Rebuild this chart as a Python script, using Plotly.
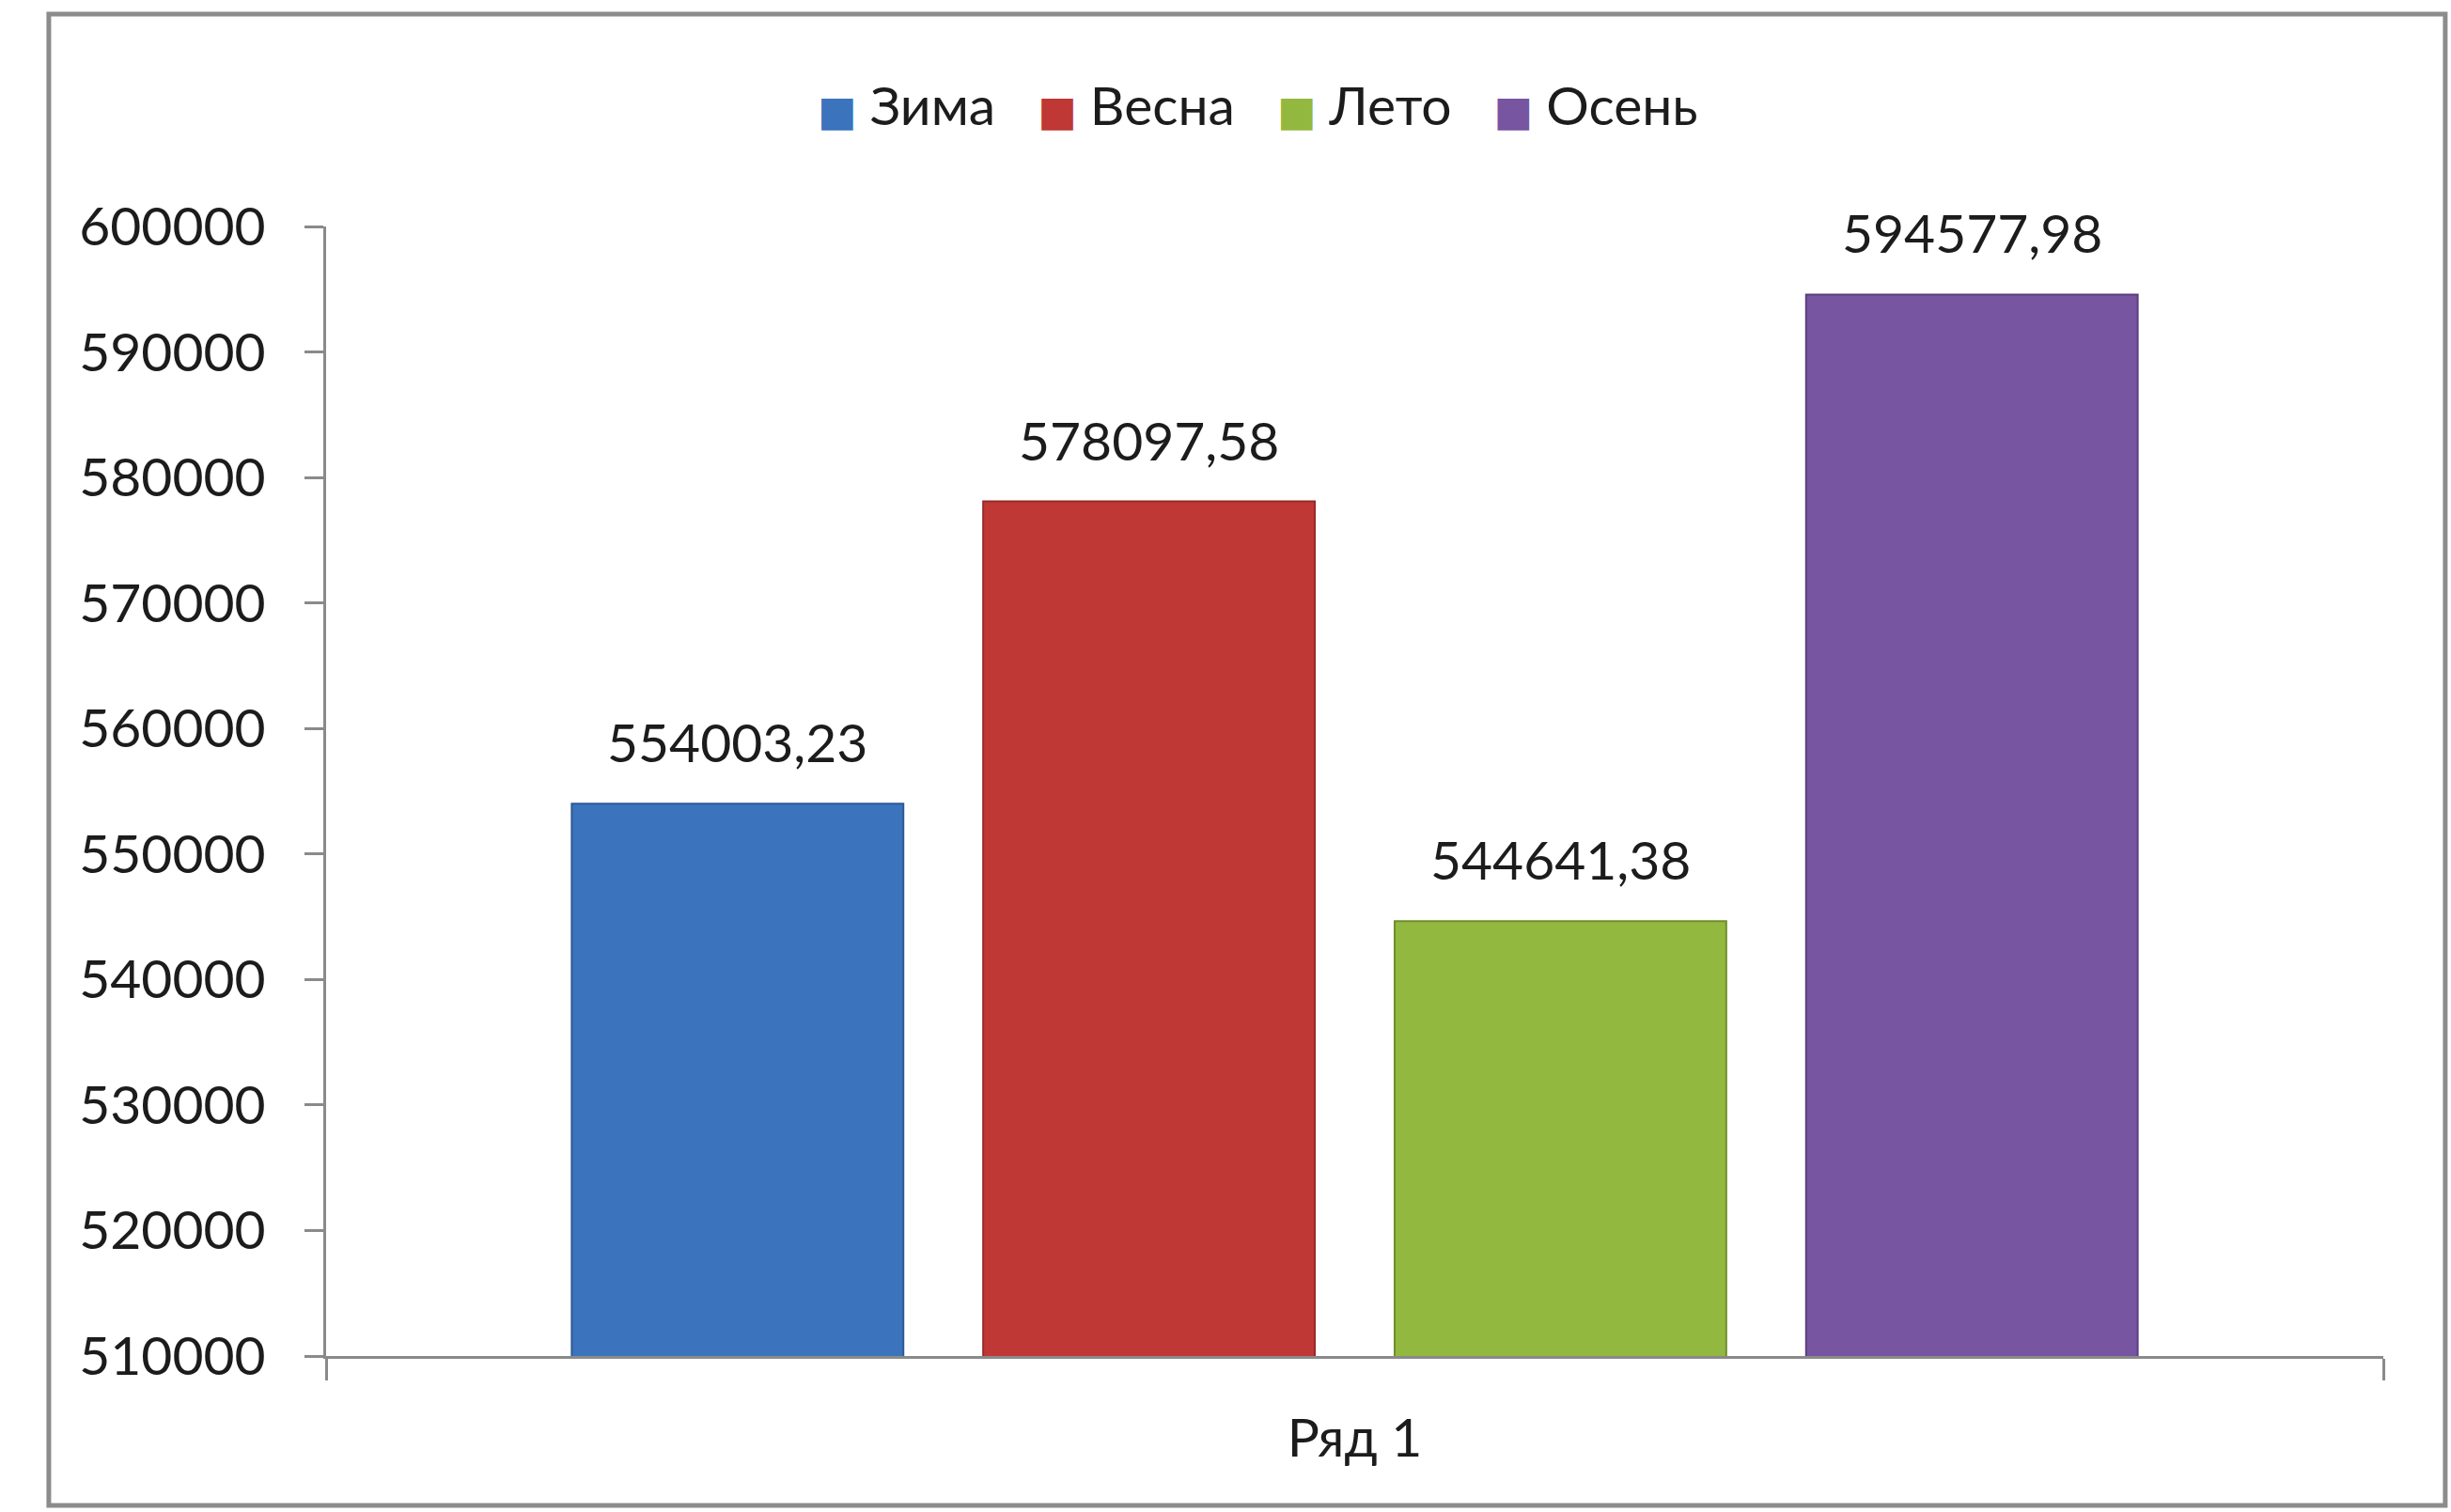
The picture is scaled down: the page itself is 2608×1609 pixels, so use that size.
import plotly.graph_objects as go

# Seasonal totals for a single data series
seasons = ["Зима", "Весна", "Лето", "Осень"]
values = [554003.23, 578097.58, 544641.38, 594577.98]
value_labels = ["554003,23", "578097,58", "544641,38", "594577,98"]
series_name = "Ряд 1"
fills = ["#3b74bd", "#bf3835", "#93b83f", "#7755a1"]
edges = ["#2d5a94", "#962a28", "#6f8d2c", "#5a3f7d"]

FONT = "Lato, 'Open Sans', sans-serif"
TEXT = "#1c1c1c"
AXIS = "#8a8a8a"

fig = go.Figure()

for i, (name, val) in enumerate(zip(seasons, values)):
    fig.add_trace(go.Bar(
        x=[i], y=[val], name=name, width=0.806, showlegend=False,
        marker=dict(color=fills[i], line=dict(color=edges[i], width=2)),
        hoverinfo="y",
    ))
    fig.add_annotation(
        x=i, y=val, text=value_labels[i], showarrow=False,
        yanchor="middle", yshift=66,
        font=dict(family=FONT, size=57, color=TEXT),
    )

# Legend entries: large coloured square key followed by the season name
for i, name in enumerate(seasons):
    fig.add_trace(go.Scatter(
        x=[None], y=[None], mode="markers",
        marker=dict(color="rgba(0,0,0,0)", size=1),
        name=(f"<span style='color:{fills[i]};font-size:44px;"
              f"font-family:DejaVu Sans'>■ </span>{name}"),
        hoverinfo="skip",
    ))

# Chart frame
fig.add_shape(
    type="rect", xref="paper", yref="paper",
    x0=-0.1348, x1=1.0301, y0=-0.1323, y1=1.188,
    line=dict(color="#8c8c8c", width=5), fillcolor="rgba(0,0,0,0)", layer="below",
)

fig.update_layout(
    width=2608, height=1609,
    margin=dict(l=347, r=72, t=241, b=166),
    paper_bgcolor="white", plot_bgcolor="white",
    barmode="overlay",
    showlegend=True,
    legend=dict(
        orientation="h", x=0.445, xanchor="center", y=1.108, yanchor="middle",
        font=dict(family=FONT, size=57, color=TEXT),
        itemwidth=30,
    ),
    font=dict(family=FONT, size=57, color=TEXT),
    xaxis=dict(
        range=[-1, 4], showgrid=False, zeroline=False,
        showline=True, linecolor=AXIS, linewidth=3,
        tickmode="array", tickvals=[1.5], ticktext=[series_name],
        ticks="", ticklabelstandoff=36,
        tickfont=dict(family=FONT, size=57, color=TEXT),
        minor=dict(tickmode="array", tickvals=[-1, 4], ticks="outside",
                   ticklen=23, tickwidth=3, tickcolor=AXIS),
    ),
    yaxis=dict(
        range=[510000, 600000], dtick=10000, tick0=510000,
        showgrid=False, zeroline=False,
        showline=True, linecolor=AXIS, linewidth=3,
        ticks="outside", ticklen=20, tickwidth=3, tickcolor=AXIS,
        ticklabelstandoff=30, separatethousands=False, tickformat="d",
        tickfont=dict(family=FONT, size=57, color=TEXT),
    ),
)

fig.write_html("out.html")
